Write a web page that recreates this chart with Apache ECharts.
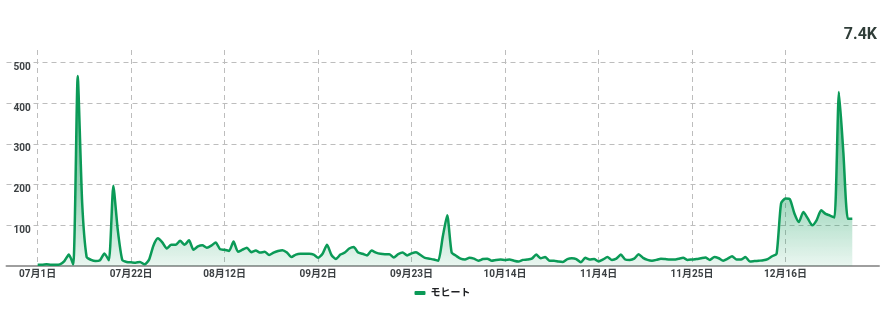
<!DOCTYPE html>
<html><head><meta charset="utf-8">
<script src="https://cdn.jsdelivr.net/npm/echarts@6/dist/echarts.min.js"></script>
<style>html,body{margin:0;padding:0;background:#fff}#c{width:885px;height:309px}</style>
</head><body><div id="c"></div>
<script>
const seriesName = 'モヒート';
const totalLabel = '7.4K';
const xTickLabels = ['07月1日','07月22日','08月12日','09月2日','09月23日','10月14日','11月4日','11月25日','12月16日'];
const yTicks = [0, 100, 200, 300, 400, 500];
// daily values, Jul 1 .. Dec 31
const julValues = [3,3,4,3,3,4,12,28,4,467, 155,22,15,12,14,31,14,197,88,15, 10,9,8,10,4,15,50,68,58,43, 52];
const augValues = [52,62,52,63,40,48,51,45,50,58, 41,40,37,60,35,40,45,34,38,33, 35,27,33,37,39,33,22,28,30,30, 30];
const sepValues = [28,20,30,52,27,17,28,33,43,47, 33,30,26,38,33,30,29,29,21,29, 33,26,31,34,27,20,18,16,13,72];
const octValues = [125,33,25,18,16,20,18,13,17,18, 13,15,16,15,16,13,11,15,16,18, 28,19,22,13,13,11,10,17,19,17, 9];
const novValues = [20,16,17,11,16,22,15,18,28,16, 15,18,29,20,15,13,15,18,17,16, 16,18,20,15,16,17,19,21,15,22];
const decValues = [19,13,18,24,16,16,22,11,12,13, 14,17,24,30,154,166,164,129,108,133, 117,100,113,137,128,124,119,428,278,116, 116];

const dataValues = [].concat(julValues, augValues, sepValues, octValues, novValues, decValues);
const padBefore = 7, padAfter = 6;
const categories = [];
const seriesData = [];
const start = Date.UTC(2023, 6, 1);
for (let i = -padBefore; i < dataValues.length + padAfter; i++) {
  const d = new Date(start + i * 86400000);
  const m = String(d.getUTCMonth() + 1).padStart(2, '0');
  categories.push(m + '月' + d.getUTCDate() + '日');
  seriesData.push(i >= 0 && i < dataValues.length ? dataValues[i] : null);
}
const green = '#0b9a57';
const FONT = 'Roboto, "Noto Sans CJK JP", sans-serif';
const showTick = (idx, val) => xTickLabels.indexOf(val) >= 0;

const chart = echarts.init(document.getElementById('c'), null, {renderer: 'canvas'});
chart.setOption({
  animation: false,
  grid: {left: 6.5, right: 6, top: 50, bottom: 43, containLabel: false},
  xAxis: {
    type: 'category', data: categories, boundaryGap: false,
    axisLine: {lineStyle: {color: '#9e9e9e', width: 2}},
    axisTick: {show: false},
    axisLabel: {interval: showTick, color: '#3c4043', fontWeight: 'bold', fontSize: 10, fontFamily: FONT, margin: 3},
    splitLine: {show: true, interval: showTick, lineStyle: {color: '#bdbdbd', type: [5, 4], width: 1}}
  },
  yAxis: {
    type: 'value', min: yTicks[0], max: 531, interval: yTicks[1] - yTicks[0],
    axisLine: {show: false}, axisTick: {show: false},
    axisLabel: {inside: true, margin: 7, showMinLabel: false, showMaxLabel: false, verticalAlign: 'top',
      color: '#3c4043', fontWeight: 'bold', fontSize: 10, fontFamily: FONT},
    splitLine: {show: true, showMinLine: false, showMaxLine: false, lineStyle: {color: '#bdbdbd', type: [5, 4], width: 1}}
  },
  legend: {
    bottom: 6, left: 'center', icon: 'roundRect', itemWidth: 11, itemHeight: 4, itemGap: 10,
    textStyle: {color: '#202124', fontWeight: 'bold', fontSize: 10, fontFamily: FONT},
    data: [seriesName]
  },
  graphic: [{type: 'text', right: 8, top: 27, style: {text: totalLabel, font: 'bold 16px ' + FONT, fill: '#2f3d38'}}],
  series: [{
    name: seriesName, type: 'line', data: seriesData, showSymbol: false, connectNulls: false,
    smooth: 0.2,
    itemStyle: {color: green},
    lineStyle: {color: green, width: 2.5},
    areaStyle: {color: new echarts.graphic.LinearGradient(0, 0, 0, 1, [
      {offset: 0, color: 'rgba(11,154,87,0.95)'},
      {offset: 0.6, color: 'rgba(11,154,87,0.6)'},
      {offset: 1, color: 'rgba(11,154,87,0.12)'}
    ])}
  }]
});
</script></body></html>
